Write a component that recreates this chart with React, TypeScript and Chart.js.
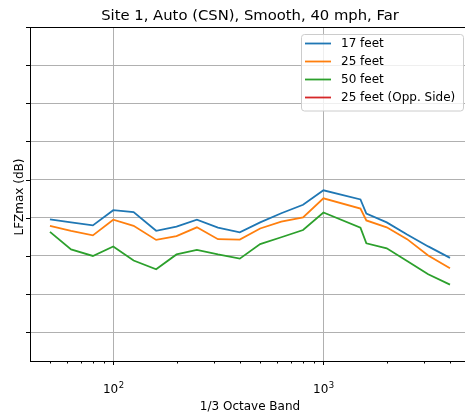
import React, { useEffect, useRef } from "react";
import { Chart, registerables } from "chart.js";

Chart.register(...registerables);

const bands = [50, 63, 80, 100, 125, 160, 200, 250, 315, 400, 500, 630, 800, 1000, 1500, 1600, 2000, 2500, 3150, 4000];
const feet17 = [69.6, 68.8, 68.0, 72.0, 71.5, 66.6, 67.7, 69.5, 67.4, 66.2, 68.8, 71.2, 73.4, 77.2, 74.8, 71.1, 68.8, 65.6, 62.5, 59.5];
const feet25 = [67.9, 66.6, 65.4, 69.5, 67.9, 64.2, 65.2, 67.5, 64.4, 64.3, 67.2, 69.0, 70.1, 75.1, 72.4, 69.3, 67.5, 64.4, 60.1, 56.8];
const feet50 = [66.3, 61.7, 60.0, 62.5, 58.8, 56.5, 60.4, 61.6, 60.4, 59.3, 63.1, 64.9, 66.8, 71.4, 67.4, 63.3, 62.0, 58.7, 55.2, 52.5];
const feet25Opp: number[] = [];

const seriesLabels = ["17 feet", "25 feet", "50 feet", "25 feet (Opp. Side)"];
const seriesColors = ["#1f77b4", "#ff7f0e", "#2ca02c", "#d62728"];

const xMajorTicks = [100, 1000];
const xMajorLabels = [["10", "2"], ["10", "3"]];
const xMinorTicks = [50, 60, 70, 80, 90, 200, 300, 400, 500, 600, 700, 800, 900, 2000, 3000, 4000];
const yTicks = [40, 50, 60, 70, 80, 90, 100, 110, 120];

const titleText = "Site 1, Auto (CSN), Smooth, 40 mph, Far";
const xTitle = "1/3 Octave Band";
const yTitle = "LFZmax (dB)";

const FONT = "'DejaVu Sans', sans-serif";

const toPoints = (vals: number[]) => vals.map((v, i) => ({ x: bands[i], y: v }));

const decorPlugin = {
  id: "decor",
  afterDraw(chart: any) {
    const ctx = chart.ctx as CanvasRenderingContext2D;
    const area = chart.chartArea;
    const xs = chart.scales.x;
    const ys = chart.scales.y;
    ctx.save();

    // spines
    ctx.strokeStyle = "#000";
    ctx.lineWidth = 1;
    ctx.strokeRect(Math.round(area.left) + 0.5, Math.round(area.top) + 0.5, Math.round(area.right - area.left), Math.round(area.bottom - area.top));

    // tick marks
    ctx.beginPath();
    for (const v of yTicks) {
      const y = Math.round(ys.getPixelForValue(v)) + 0.5;
      ctx.moveTo(area.left, y);
      ctx.lineTo(area.left - 4, y);
    }
    for (const v of xMajorTicks) {
      const x = Math.round(xs.getPixelForValue(v)) + 0.5;
      ctx.moveTo(x, area.bottom);
      ctx.lineTo(x, area.bottom + 4);
    }
    for (const v of xMinorTicks) {
      const x = Math.round(xs.getPixelForValue(v)) + 0.5;
      ctx.moveTo(x, area.bottom);
      ctx.lineTo(x, area.bottom + 2.5);
    }
    ctx.stroke();

    ctx.fillStyle = "#000";
    // x tick labels with superscript
    xMajorTicks.forEach((v, i) => {
      const [base, exp] = xMajorLabels[i];
      ctx.font = `12px ${FONT}`;
      const wb = ctx.measureText(base).width;
      ctx.font = `8.5px ${FONT}`;
      const we = ctx.measureText(exp).width;
      const cx = xs.getPixelForValue(v);
      const start = cx - (wb + we) / 2;
      ctx.textAlign = "left";
      ctx.textBaseline = "alphabetic";
      ctx.font = `12px ${FONT}`;
      ctx.fillText(base, start, 392.5);
      ctx.font = `8.5px ${FONT}`;
      ctx.fillText(exp, start + wb + 0.5, 387.5);
    });

    // title
    ctx.font = `14.8px ${FONT}`;
    ctx.textAlign = "center";
    ctx.textBaseline = "alphabetic";
    ctx.fillText(titleText, (area.left + area.right) / 2, 19.5);

    // x title
    ctx.font = `12px ${FONT}`;
    ctx.fillText(xTitle, (area.left + area.right) / 2, 409.5);

    // y title
    ctx.save();
    ctx.translate(22.5, (area.top + area.bottom) / 2 + 3);
    ctx.rotate(-Math.PI / 2);
    ctx.fillText(yTitle, 0, 0);
    ctx.restore();

    // legend
    const lx = 301.5, ly = 34.5, lw = 162, lh = 76.5, r = 3;
    ctx.beginPath();
    ctx.moveTo(lx + r, ly);
    ctx.lineTo(lx + lw - r, ly);
    ctx.quadraticCurveTo(lx + lw, ly, lx + lw, ly + r);
    ctx.lineTo(lx + lw, ly + lh - r);
    ctx.quadraticCurveTo(lx + lw, ly + lh, lx + lw - r, ly + lh);
    ctx.lineTo(lx + r, ly + lh);
    ctx.quadraticCurveTo(lx, ly + lh, lx, ly + lh - r);
    ctx.lineTo(lx, ly + r);
    ctx.quadraticCurveTo(lx, ly, lx + r, ly);
    ctx.closePath();
    ctx.fillStyle = "rgba(255,255,255,0.8)";
    ctx.fill();
    ctx.strokeStyle = "#cccccc";
    ctx.lineWidth = 1;
    ctx.stroke();

    const rowYs = [43.5, 61.5, 79.5, 97.5];
    seriesLabels.forEach((lab, i) => {
      const y = rowYs[i];
      ctx.strokeStyle = seriesColors[i];
      ctx.lineWidth = 1.8;
      ctx.beginPath();
      ctx.moveTo(305, y);
      ctx.lineTo(331, y);
      ctx.stroke();
      ctx.fillStyle = "#000";
      ctx.font = `12px ${FONT}`;
      ctx.textAlign = "left";
      ctx.textBaseline = "middle";
      ctx.fillText(lab, 341, y + 0.5);
    });

    ctx.restore();
  },
};

export default function App() {
  const canvasRef = useRef<HTMLCanvasElement | null>(null);

  useEffect(() => {
    document.body.style.margin = "0";
    const canvas = canvasRef.current;
    if (!canvas) return;
    const seriesData = [feet17, feet25, feet50, feet25Opp];
    const chart = new Chart(canvas, {
      type: "line",
      data: {
        datasets: seriesData.map((vals, i) => ({
          label: seriesLabels[i],
          data: toPoints(vals),
          borderColor: seriesColors[i],
          backgroundColor: seriesColors[i],
          borderWidth: 1.8,
          pointRadius: 0,
          tension: 0,
          fill: false,
        })),
      },
      options: {
        responsive: false,
        animation: false,
        devicePixelRatio: 1,
        layout: { padding: { left: 30, top: 27, right: 2, bottom: 56 } },
        plugins: {
          legend: { display: false },
          title: { display: false },
          tooltip: { enabled: false },
        },
        scales: {
          x: {
            type: "logarithmic",
            min: 40.18,
            max: 4980,
            afterBuildTicks: (s: any) => {
              s.ticks = xMajorTicks.map((v) => ({ value: v }));
            },
            afterFit: (s: any) => {
              s.height = 0;
            },
            ticks: { display: false },
            grid: { color: "#b0b0b0", lineWidth: 1, drawTicks: false },
            border: { display: false },
          },
          y: {
            type: "linear",
            min: 32.47,
            max: 120,
            afterBuildTicks: (s: any) => {
              s.ticks = yTicks.map((v) => ({ value: v }));
            },
            afterFit: (s: any) => {
              s.width = 0;
            },
            ticks: { display: false },
            grid: { color: "#b0b0b0", lineWidth: 1, drawTicks: false },
            border: { display: false },
          },
        },
      },
      plugins: [decorPlugin],
    });
    return () => chart.destroy();
  }, []);

  return (
    <div style={{ position: "fixed", left: 0, top: 0, width: 465, height: 417, overflow: "hidden", background: "#fff" }}>
      <canvas ref={canvasRef} width={472} height={417} style={{ display: "block", width: 472, height: 417 }} />
    </div>
  );
}
